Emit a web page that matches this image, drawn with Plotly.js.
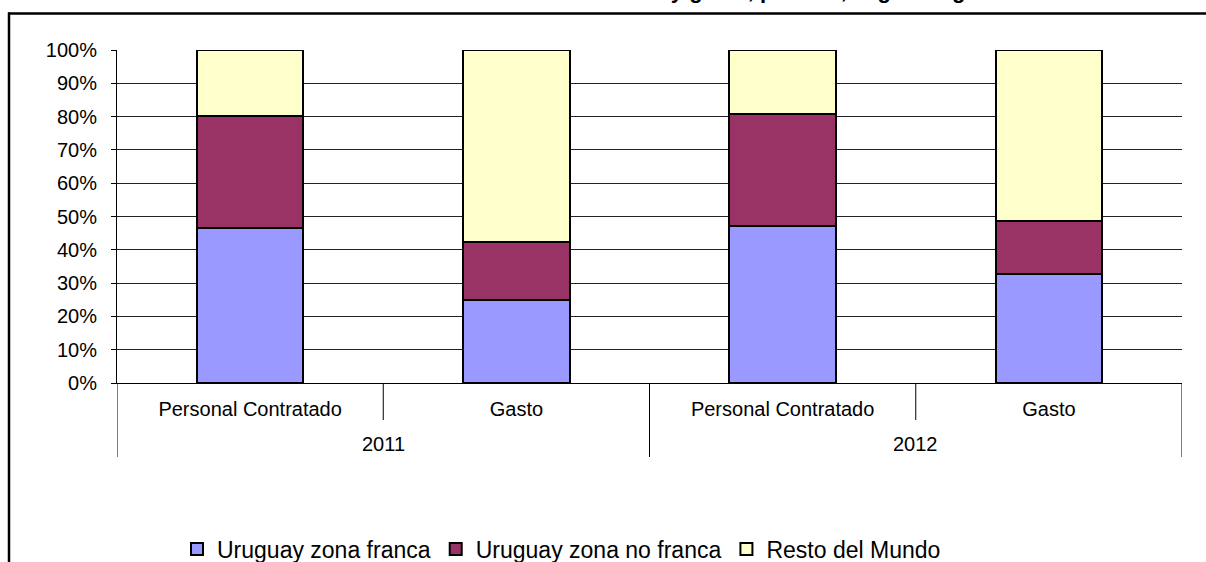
<!DOCTYPE html>
<html>
<head>
<meta charset="utf-8">
<script src="https://cdn.plot.ly/plotly-3.0.1.min.js"></script>
<style>
  html, body { margin: 0; padding: 0; background: #fff; }
  #chart { width: 1206px; height: 562px; }
</style>
</head>
<body>
<div id="chart"></div>
<script>
// ---- data ----
const years = ['2011', '2012'];
const measures = ['Personal Contratado', 'Gasto'];
const seriesNames = ['Uruguay zona franca', 'Uruguay zona no franca', 'Resto del Mundo'];
const zonaFranca   = [46.5, 24.8, 47.0, 32.7];
const zonaNoFranca = [33.8, 17.4, 33.7, 15.9];
const restoMundo   = [19.7, 57.8, 19.3, 51.4];
const colors = ['#9999FF', '#993366', '#FFFFCC'];
const titleText = 'Personal contratado y gasto, por año, según origen';

// ---- derived categories ----
const catYear = [], catMeasure = [];
years.forEach(y => measures.forEach(m => { catYear.push(y); catMeasure.push(m); }));
const xIdx = catMeasure.map((_, i) => i);

const values = [zonaFranca, zonaNoFranca, restoMundo];
const traces = values.map((vals, k) => ({
  type: 'bar',
  name: seriesNames[k],
  x: xIdx,
  y: vals,
  width: 0.4,
  marker: { color: colors[k], line: { color: '#000', width: 2 } },
  hoverinfo: 'none'
}));

// pixel helpers (plot area: y 50..383, x 117..1182)
const plotTop = 50, plotH = 333, plotL = 117, plotW = 1065;
const py = p => (plotTop + plotH - p) / plotH;
const px = p => (p - plotL) / plotW;

const shapes = [];
// short boundary ticks between measures inside a year
for (let i = 0; i < catMeasure.length - 1; i++) {
  if (catYear[i] === catYear[i + 1]) {
    shapes.push({ type: 'line', xref: 'x', yref: 'paper', x0: i + 0.5, x1: i + 0.5,
      y0: 0, y1: py(420), line: { color: '#000', width: 1 } });
  }
}
// long boundary lines at year group edges
const yearEdges = [-0.5];
for (let i = 0; i < catYear.length; i++) {
  if (i === catYear.length - 1 || catYear[i] !== catYear[i + 1]) yearEdges.push(i + 0.5);
}
yearEdges.forEach(e => shapes.push({ type: 'line', xref: 'x', yref: 'paper', x0: e, x1: e,
  y0: 0, y1: py(457), line: { color: '#000', width: 1 } }));
// outer frame: top and left edges (right/bottom lie outside the picture)
shapes.push({ type: 'line', xref: 'paper', yref: 'paper',
  x0: px(8), x1: px(1300), y0: py(13.5), y1: py(13.5), line: { color: '#000', width: 2.5 } });
shapes.push({ type: 'line', xref: 'paper', yref: 'paper',
  x0: px(9), x1: px(9), y0: py(12.5), y1: py(700), line: { color: '#000', width: 2.5 } });

const annotations = years.map(y => {
  const idx = catYear.map((v, i) => v === y ? i : null).filter(v => v !== null);
  const mid = (idx[0] + idx[idx.length - 1]) / 2;
  return { x: mid, xref: 'x', y: py(444), yref: 'paper', text: y, showarrow: false,
    xanchor: 'center', yanchor: 'middle', font: { size: 20, color: '#000' } };
});
annotations.push({ text: '<b>' + titleText + '</b>', showarrow: false,
  xref: 'paper', yref: 'paper', x: px(992), y: py(4), xanchor: 'right', yanchor: 'bottom',
  borderpad: 0, font: { size: 22, color: '#000' } });

const layout = {
  width: 1206, height: 562,
  margin: { l: plotL, r: 1206 - plotL - plotW, t: plotTop, b: 562 - plotTop - plotH, autoexpand: false },
  paper_bgcolor: '#fff', plot_bgcolor: '#fff',
  font: { family: '"Liberation Sans", Arial, sans-serif', size: 20, color: '#000' },
  barmode: 'stack',
  showlegend: true,
  legend: { orientation: 'h', x: px(177), xanchor: 'left', y: py(549), yanchor: 'middle',
    font: { size: 23, color: '#000' }, bgcolor: 'rgba(0,0,0,0)', traceorder: 'normal' },
  xaxis: {
    type: 'linear', range: [-0.5, catMeasure.length - 0.5],
    tickvals: xIdx, ticktext: catMeasure, ticks: '', ticklen: 0,
    showgrid: false, zeroline: false, showline: true, linecolor: '#000', linewidth: 1,
    tickfont: { size: 20, color: '#000' }, ticklabelstandoff: 8, fixedrange: true
  },
  yaxis: {
    range: [0, 100], dtick: 10, tick0: 0, ticksuffix: '%',
    ticks: 'outside', ticklen: 5, tickcolor: '#000', tickwidth: 1,
    showgrid: true, gridcolor: '#222', gridwidth: 1, zeroline: false,
    showline: true, linecolor: '#000', linewidth: 1,
    tickfont: { size: 20, color: '#000' }, ticklabelstandoff: 10, fixedrange: true
  },
  shapes: shapes,
  annotations: annotations
};

Plotly.newPlot('chart', traces, layout, { staticPlot: true, displayModeBar: false });
</script>
</body>
</html>
